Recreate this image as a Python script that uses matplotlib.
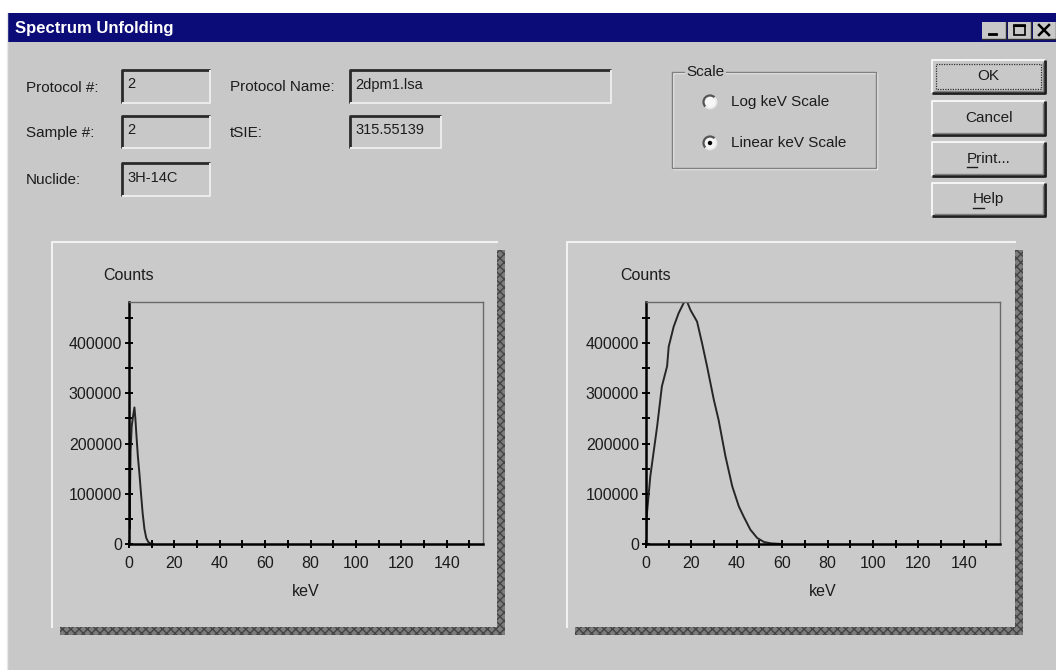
import matplotlib
matplotlib.use('Agg')
import matplotlib.pyplot as plt
from matplotlib.patches import Rectangle, Circle, Arc
from matplotlib.ticker import FixedLocator

plt.rcParams['font.family'] = ['Liberation Sans', 'DejaVu Sans']
plt.rcParams['hatch.linewidth'] = 1.0

# spectrum data (keV, counts)
low_kev = [0, 0.1, 0.25, 0.7, 1.2, 1.8, 2.4, 2.8, 3.3, 3.9, 4.6, 5.3, 6.0, 6.8, 7.6, 8.5, 9.5, 10.5]
low_counts = [0, 150000, 30000, 185000, 235000, 255000, 272000, 250000, 215000, 175000,
              140000, 100000, 62000, 30000, 12000, 4000, 1000, 0]

high_kev = [0, 0.3, 1.9, 4.9, 7.0, 9.3, 10.0, 12.2, 14.4, 16.6, 17.8, 19.6, 22.5, 24.7,
            26.9, 29.9, 32.0, 35.0, 38.0, 40.9, 43.0, 46.0, 49.0, 52.0, 55.0, 60.0]
high_counts = [0, 55000, 135000, 234000, 314000, 354000, 393000, 433000, 460000, 480000,
               486000, 466000, 443000, 400000, 354000, 287000, 247000, 175000, 115000,
               75000, 55000, 28500, 12000, 4000, 1300, 0]

x_major = [0, 20, 40, 60, 80, 100, 120, 140]
x_minor = [10, 30, 50, 70, 90, 110, 130, 150]
y_major = [0, 100000, 200000, 300000, 400000]
y_minor = [50000, 150000, 250000, 350000, 450000]
x_labels = ['0', '20', '40', '60', '80', '100', '120', '140']
y_labels = ['0', '100000', '200000', '300000', '400000']

fields = [('Protocol #:', '2'), ('Sample #:', '2'), ('Nuclide:', '3H-14C')]
buttons = ['OK', 'Cancel', 'Print...', 'Help']

BG = '#c8c8c8'
TXT = '#1c1c1c'
W, H = 1056, 670

fig = plt.figure(figsize=(W / 100, H / 100), dpi=100)
fig.patch.set_facecolor('white')

# pixel-space layer for the dialog chrome
ui = fig.add_axes([0, 0, 1, 1])
ui.set_xlim(0, W)
ui.set_ylim(H, 0)
ui.axis('off')

ui.add_patch(Rectangle((7, 13), W - 7, H - 13, facecolor=BG, edgecolor='none'))
ui.plot([7, 7], [13, H], color='#e8e8e8', lw=1)
ui.add_patch(Rectangle((7, 13), W - 7, 29, facecolor='#0c0c78', edgecolor='none'))
ui.text(15, 28, 'Spectrum Unfolding', color='white', fontsize=12, fontweight='bold',
        va='center', ha='left')

# caption buttons
for x0, x1, sym in [(982, 1006, '_'), (1008, 1031, 'box'), (1033, 1056, 'x')]:
    ui.add_patch(Rectangle((x0, 22), x1 - x0, 17, facecolor=BG, edgecolor='none'))
    ui.plot([x0, x1, x1], [39, 39, 22], color='#303030', lw=1)
    if sym == '_':
        ui.plot([x0 + 7, x0 + 14], [34, 34], color='black', lw=2)
    elif sym == 'box':
        ui.add_patch(Rectangle((x0 + 6, 25), 11, 10, facecolor='none', edgecolor='black', lw=1.2))
        ui.plot([x0 + 6, x0 + 17], [26, 26], color='black', lw=1.5)
    else:
        ui.plot([x0 + 6, x0 + 16], [25, 35], color='black', lw=1.8)
        ui.plot([x0 + 6, x0 + 16], [35, 25], color='black', lw=1.8)


def edit_box(x0, y0, x1, y1, text):
    ui.plot([x0, x0, x1], [y1, y0, y0], color='#2a2a2a', lw=2.0, solid_capstyle='butt')
    ui.plot([x0, x1, x1], [y1, y1, y0], color='#ececec', lw=1.4, solid_capstyle='butt')
    ui.text(x0 + 5, (y0 + y1) / 2 - 2, text, color=TXT, fontsize=10.5, va='center', ha='left')


rows_y = [(70, 103), (116, 148), (163, 196)]
for (label, value), (y0, y1) in zip(fields, rows_y):
    ui.text(26, (y0 + y1) / 2 + 1, label, color=TXT, fontsize=11, va='center', ha='left')
    edit_box(122, y0, 210, y1, value)

ui.text(230, 87, 'Protocol Name:', color=TXT, fontsize=11, va='center', ha='left')
edit_box(350, 70, 611, 103, '2dpm1.lsa')
ui.text(230, 133, 'tSIE:', color=TXT, fontsize=11, va='center', ha='left')
edit_box(350, 116, 441, 148, '315.55139')

# Scale group box
gx0, gy0, gx1, gy1 = 672, 72, 876, 168
ui.add_patch(Rectangle((gx0 + 1, gy0 + 1), gx1 - gx0, gy1 - gy0, facecolor='none',
                       edgecolor='#f0f0f0', lw=1))
ui.add_patch(Rectangle((gx0, gy0), gx1 - gx0, gy1 - gy0, facecolor='none',
                       edgecolor='#808080', lw=1))
ui.text(686, gy0, 'Scale', color=TXT, fontsize=11, va='center', ha='left',
        bbox=dict(facecolor=BG, edgecolor='none', pad=1))
for cy, label, on in [(102, 'Log keV Scale', False), (143, 'Linear keV Scale', True)]:
    ui.add_patch(Circle((710, cy), 6.5, facecolor='#f6f6f6', edgecolor='none'))
    # sunken rim: dark upper-left, light lower-right (y axis is inverted)
    ui.add_patch(Arc((710, cy), 13, 13, theta1=135, theta2=315, color='#555555', lw=1.6))
    ui.add_patch(Arc((710, cy), 13, 13, theta1=-45, theta2=135, color='#e8e8e8', lw=1.2))
    if on:
        ui.add_patch(Circle((710, cy), 2.2, facecolor='black', edgecolor='none'))
    ui.text(731, cy, label, color=TXT, fontsize=11, va='center', ha='left')

# push buttons
btn_y = [(60, 93), (101, 135), (142, 176), (183, 216)]
fig.canvas.draw()
renderer = fig.canvas.get_renderer()
for label, (y0, y1) in zip(buttons, btn_y):
    x0, x1 = 932, 1045
    ui.plot([x0, x0, x1], [y1, y0, y0], color='#f4f4f4', lw=1.5, solid_capstyle='butt')
    ui.plot([x0, x1, x1], [y1, y1, y0], color='#202020', lw=2.0, solid_capstyle='butt')
    ui.plot([x0 + 2, x1 - 2, x1 - 2], [y1 - 2, y1 - 2, y0 + 2], color='#808080', lw=1,
            solid_capstyle='butt')
    t = ui.text((x0 + x1) / 2, (y0 + y1) / 2, label, color=TXT, fontsize=11,
                va='center', ha='center')
    if label == 'OK':
        ui.add_patch(Rectangle((x0 + 4, y0 + 4), x1 - x0 - 8, y1 - y0 - 8, facecolor='none',
                               edgecolor='#303030', lw=0.9, ls=(0, (1, 1))))
    if label in ('Print...', 'Help'):
        bb = t.get_window_extent(renderer)
        first = ui.text(0, 0, label[0], fontsize=11)
        fw = first.get_window_extent(renderer).width
        first.remove()
        ux0 = bb.x0
        uy = H - bb.y0 + 1
        ui.plot([ux0, ux0 + fw], [uy, uy], color=TXT, lw=1)


def chart_panel(px0, px1, ax_left, ax_right, kev, counts):
    py0, py1 = 242, 627
    # dithered drop shadow
    ui.add_patch(Rectangle((px1, py0 + 8), 8, py1 - py0, facecolor='#7c7c7c',
                           edgecolor='#444444', hatch='xxxx', lw=0))
    ui.add_patch(Rectangle((px0 + 8, py1), px1 - px0, 8, facecolor='#7c7c7c',
                           edgecolor='#444444', hatch='xxxx', lw=0))
    ui.add_patch(Rectangle((px0, py0), px1 - px0, py1 - py0, facecolor='#cacaca',
                           edgecolor='none'))
    ui.plot([px0, px0, px1], [py1, py0, py0], color='#f2f2f2', lw=1.5)

    top, bottom = 302, 544
    ax = fig.add_axes([ax_left / W, 1 - bottom / H, (ax_right - ax_left) / W, (bottom - top) / H])
    ax.set_facecolor('#cacaca')
    ax.plot(kev, counts, color='#262626', lw=1.4)
    ax.set_xlim(0, 156)
    ax.set_ylim(0, 482000)
    ax.xaxis.set_major_locator(FixedLocator(x_major))
    ax.xaxis.set_minor_locator(FixedLocator(x_minor))
    ax.yaxis.set_major_locator(FixedLocator(y_major))
    ax.yaxis.set_minor_locator(FixedLocator(y_minor))
    ax.set_xticklabels(x_labels)
    ax.set_yticklabels(y_labels)
    ax.tick_params(which='both', direction='inout', length=6, width=1.4, color='black',
                   labelsize=11.5, labelcolor=TXT)
    ax.tick_params(axis='x', pad=6)
    ax.tick_params(axis='y', pad=2)
    for side in ['left', 'bottom']:
        ax.spines[side].set_linewidth(1.8)
        ax.spines[side].set_color('black')
    for side in ['top', 'right']:
        ax.spines[side].set_linewidth(1.0)
        ax.spines[side].set_color('#6a6a6a')
    ui.text(ax_left, 275, 'Counts', color=TXT, fontsize=11.5, ha='center', va='center')
    ui.text((ax_left + ax_right) / 2, 592, 'keV', color=TXT, fontsize=11.5,
            ha='center', va='center')
    return ax


chart_panel(52, 497, 129, 483, low_kev, low_counts)
chart_panel(567, 1015, 646, 1000, high_kev, high_counts)

fig.savefig('out.png', dpi=100, facecolor=fig.get_facecolor())
plt.close(fig)
